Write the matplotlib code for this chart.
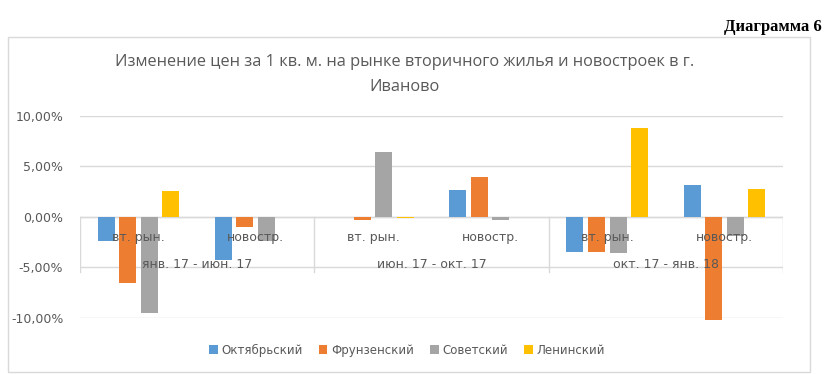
import matplotlib.pyplot as plt
import numpy as np
from matplotlib.patches import Rectangle
from matplotlib.ticker import FuncFormatter

# Данные (в %)
periods = ['янв. 17 - июн. 17', 'июн. 17 - окт. 17', 'окт. 17 - янв. 18']
markets = ['вт. рын.', 'новостр.']
series = ['Октябрьский', 'Фрунзенский', 'Советский', 'Ленинский']
colors = ['#5B9BD5', '#ED7D31', '#A5A5A5', '#FFC000']

oktyabrsky = [-2.4, -4.3, 0.0, 2.7, -3.5, 3.2]
frunzensky = [-6.5, -1.0, -0.3, 4.0, -3.5, -10.2]
sovetsky = [-9.5, -2.4, 6.4, -0.3, -3.6, -1.9]
leninsky = [2.6, 0.0, -0.1, 0.0, 8.8, 2.8]
values = [oktyabrsky, frunzensky, sovetsky, leninsky]

grey = '#595959'
line = '#D9D9D9'

fig = plt.figure(figsize=(8.29, 3.74), dpi=100)
fig.patches.append(Rectangle((8 / 829, 0.005), 802 / 829, 1 - 37 / 374 - 0.005,
                             transform=fig.transFigure, fill=False,
                             edgecolor=line, linewidth=1))

fig.text(822 / 829, 1 - 27 / 374, 'Диаграмма 6', ha='right', va='center',
         fontsize=12, fontweight='bold', family='Liberation Serif')
fig.text(405 / 829, 1 - 62 / 374, 'Изменение цен за 1 кв. м. на рынке вторичного жилья и новостроек в г.',
         ha='center', va='center', fontsize=11.8, color=grey, family='Open Sans')
fig.text(405 / 829, 1 - 87 / 374, 'Иваново', ha='center', va='center',
         fontsize=11.8, color=grey, family='Open Sans')

ax = fig.add_axes([80 / 829, 1 - 318 / 374, 703 / 829, 202 / 374])
x = np.arange(6)
stride = 0.184
width = 0.145
for i, (vals, name, c) in enumerate(zip(values, series, colors)):
    ax.bar(x + (i - 1.5) * stride, vals, width, color=c, label=name,
           zorder=2, clip_on=False)

ax.set_xlim(-0.5, 5.5)
ax.set_ylim(-10, 10)
ax.set_yticks([-10, -5, 0, 5, 10])
ax.yaxis.set_major_formatter(FuncFormatter(lambda v, p: f'{v:.2f}%'.replace('.', ',')))
ax.tick_params(axis='y', length=0, labelsize=9, labelcolor=grey, pad=12)
ax.set_xticks([])
ax.grid(axis='y', color=line, linewidth=1, zorder=0)
for s in ax.spines.values():
    s.set_visible(False)
ax.axhline(0, color=line, linewidth=1, zorder=1)

for b in [-0.5, 1.5, 3.5, 5.5]:
    ax.plot([b, b], [0, -5.45], color=line, linewidth=1, zorder=1)
for k in range(6):
    ax.text(x[k], -2.0, markets[k % 2], ha='center', va='center',
            fontsize=9, color=grey, zorder=3)
for j, p in enumerate(periods):
    ax.text(2 * j + 0.5, -4.75, p, ha='center', va='center',
            fontsize=9, color=grey, zorder=3)

fig.legend(loc='center', bbox_to_anchor=(407 / 829, 1 - 350 / 374), ncol=4,
           frameon=False, fontsize=8.5, labelcolor=grey, handlelength=0.7,
           handleheight=0.7, handletextpad=0.3, columnspacing=1.4)

fig.savefig('out.png', dpi=100)
